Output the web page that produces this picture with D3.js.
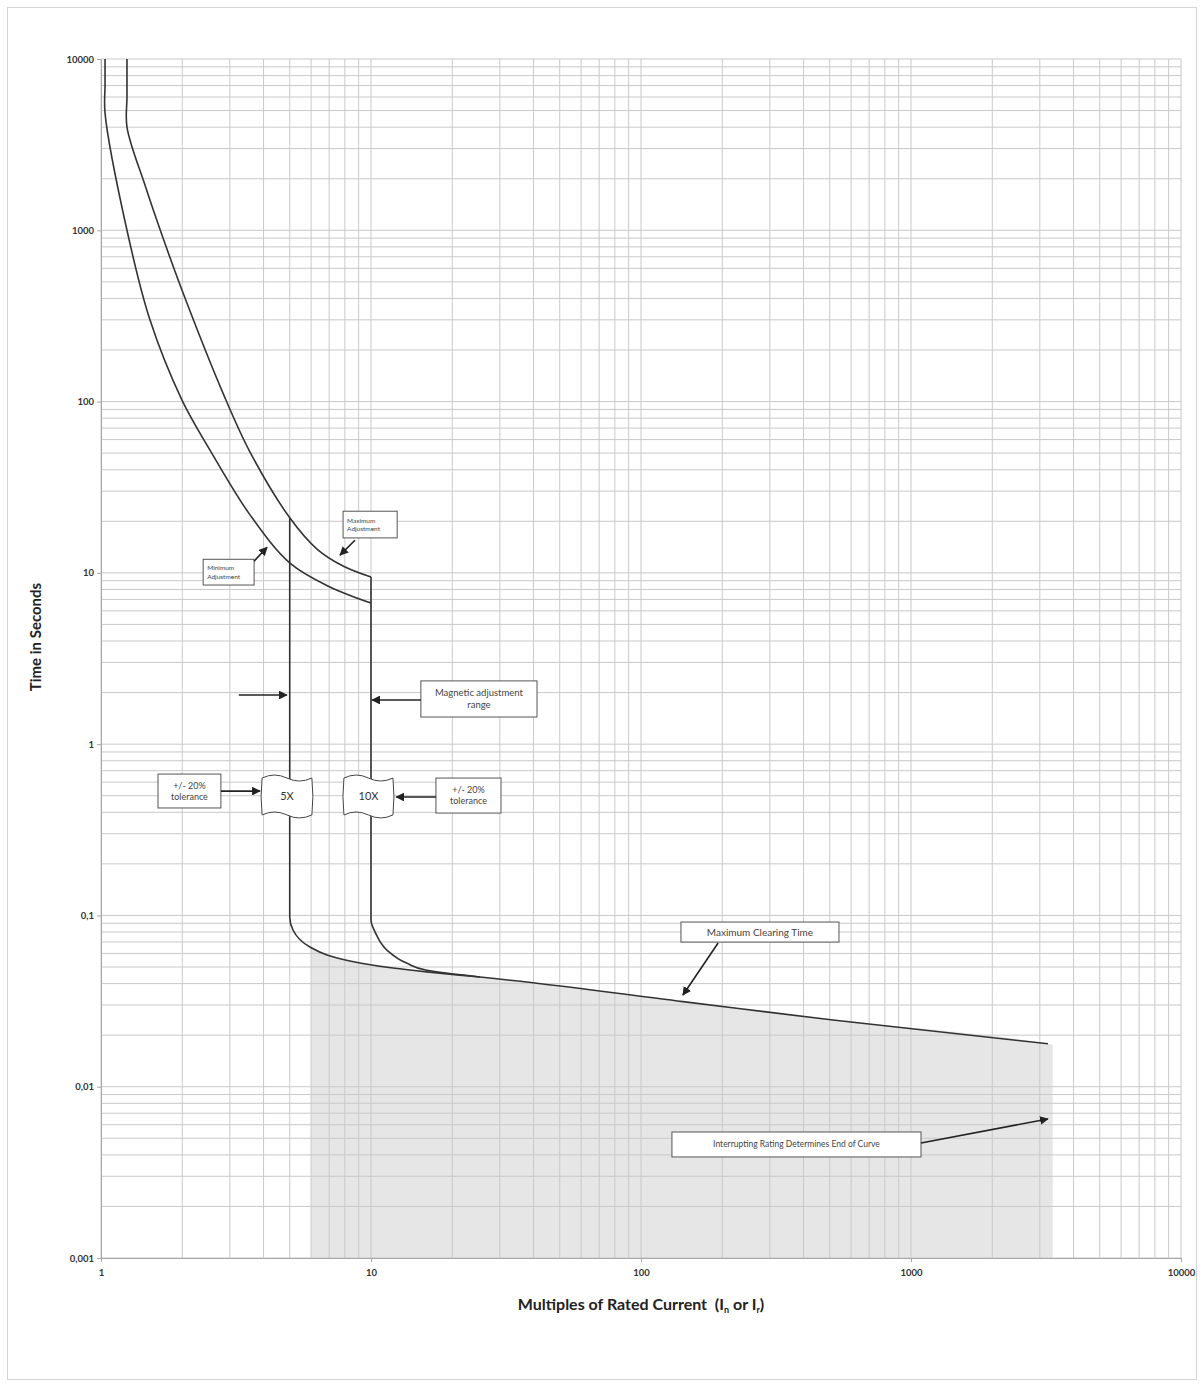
<!DOCTYPE html>
<html>
<head>
<meta charset="utf-8">
<script src="https://cdn.jsdelivr.net/npm/d3@7"></script>
<style>
body { margin: 0; background: #fff; }
svg { font-family: Lato, "Open Sans", sans-serif; }
</style>
</head>
<body>
<svg id="chart" width="1203" height="1386"></svg>
<script>
// valores: x = múltiplos da corrente nominal, y = segundos
const xTicks = [1, 10, 100, 1000, 10000];
const xTickLabels = ["1", "10", "100", "1000", "10000"];
const yTicks = [0.001, 0.01, 0.1, 1, 10, 100, 1000, 10000];
const yTickLabels = ["0,001", "0,01", "0,1", "1", "10", "100", "1000", "10000"];

const minAdjust = [[1.035, 10000], [1.035, 7000], [1.035, 4834], [1.248, 1000], [1.519, 299], [1.995, 102], [2.533, 52.1], [3.564, 21.8], [5.01, 11.4], [7.05, 8.27], [10, 6.66]];
const maxAdjust = [[1.248, 10000], [1.248, 6000], [1.248, 4006], [1.455, 1837], [1.682, 938], [2.047, 402], [2.83, 112], [3.564, 50.7], [5.01, 20.9], [6.31, 13.77], [7.88, 10.96], [10, 9.45]];
const mag5 = [[5, 20.9], [5, 0.098], [5.14, 0.0822], [5.94, 0.0654], [6.87, 0.0588], [9.1, 0.0528], [12.06, 0.0493], [16.1, 0.0468], [25.3, 0.0437], [143, 0.0314], [514, 0.0245], [3215, 0.0178]];
const mag10 = [[10, 9.45], [10, 0.094], [10.4, 0.0789], [11.45, 0.0628], [13.6, 0.0525], [16.1, 0.0478], [25.3, 0.0437]];
const shadeTop = [[6.0, 0.064], [6.87, 0.0588], [9.1, 0.0528], [12.06, 0.0493], [16.1, 0.0468], [25.3, 0.0437], [143, 0.0314], [514, 0.0245], [3215, 0.0178], [3350, 0.0176]];

// caixas de texto (cantos em unidades do gráfico)
const boxes = [
   { text: ["Maximum", "Adjustment"], x0: 7.88, x1: 12.5, t0: 22.9, t1: 16.0, size: 6.5, left: true },
   { text: ["Minimum", "Adjustment"], x0: 2.39, x1: 3.69, t0: 12.0, t1: 8.49, size: 6.5, left: true },
   { text: ["Magnetic adjustment", "range"], x0: 15.3, x1: 41.2, t0: 2.34, t1: 1.44, size: 9.5 },
   { text: ["+/- 20%", "tolerance"], x0: 1.626, x1: 2.78, t0: 0.669, t1: 0.424, size: 9 },
   { text: ["+/- 20%", "tolerance"], x0: 17.4, x1: 30.3, t0: 0.634, t1: 0.396, size: 9 },
   { text: ["Maximum Clearing Time"], x0: 140.6, x1: 541, t0: 0.0915, t1: 0.0699, size: 10 },
   { text: ["Interrupting Rating Determines End of Curve"], x0: 130.2, x1: 1089, t0: 0.00544, t1: 0.00389, size: 8.5 }
];
const tapes = [
   { text: "5X", x0: 3.95, x1: 6.04, t0: 0.634, t1: 0.386 },
   { text: "10X", x0: 7.94, x1: 12.06, t0: 0.634, t1: 0.386 }
];
const arrows = [
   [[8.72, 15.5], [7.68, 12.7]],
   [[3.69, 11.7], [4.12, 14.1]],
   [[3.24, 1.935], [4.88, 1.935]],
   [[15.3, 1.81], [10.09, 1.81]],
   [[2.78, 0.532], [3.88, 0.532]],
   [[17.4, 0.491], [12.4, 0.491]],
   [[193, 0.069], [143, 0.0343]],
   [[1089, 0.00469], [3215, 0.00648]]
];

const margin = { left: 101, top: 59 };
const width = 1080, height = 1199;
const svg = d3.select("#chart");

svg.append("rect")
   .attr("x", 7.5).attr("y", 7.5)
   .attr("width", 1189).attr("height", 1372)
   .attr("fill", "none").attr("stroke", "#d4d4d4");

const g = svg.append("g").attr("transform", `translate(${margin.left},${margin.top})`);
const x = d3.scaleLog().domain([1, 10000]).range([0, width]);
const y = d3.scaleLog().domain([0.001, 10000]).range([height, 0]);

// área sombreada
g.append("path")
   .datum(shadeTop)
   .attr("fill", "#e6e6e6")
   .attr("d", d3.area().x(d => x(d[0])).y0(y(0.001)).y1(d => y(d[1])).curve(d3.curveMonotoneX));

// grade log
const xGrid = [], yGrid = [];
for (let e = 0; e < 4; e++) for (let k = 1; k < 10; k++) xGrid.push(k * 10 ** e);
xGrid.push(10000);
for (let e = -3; e < 4; e++) for (let k = 1; k < 10; k++) yGrid.push(k * 10 ** e);
yGrid.push(10000);

g.selectAll(".vg").data(xGrid).join("line")
   .attr("x1", d => x(d)).attr("x2", d => x(d))
   .attr("y1", 0).attr("y2", height)
   .attr("stroke", "#c9c9c9");
g.selectAll(".hg").data(yGrid).join("line")
   .attr("y1", d => y(d)).attr("y2", d => y(d))
   .attr("x1", 0).attr("x2", width)
   .attr("stroke", "#c9c9c9");

// eixos
const xAxis = g.append("g").attr("transform", `translate(0,${height})`)
   .call(d3.axisBottom(x).tickValues(xTicks).tickFormat((d, i) => xTickLabels[i]).tickSize(4).tickSizeOuter(0));
const yAxis = g.append("g")
   .call(d3.axisLeft(y).tickValues(yTicks).tickFormat((d, i) => yTickLabels[i]).tickSize(4).tickSizeOuter(0));
[xAxis, yAxis].forEach(a => {
   a.selectAll("path, line").attr("stroke", "#a8a8a8");
   a.selectAll("text")
      .attr("font-family", "Lato, sans-serif")
      .attr("font-size", 9.5)
      .attr("font-weight", "bold")
      .attr("fill", "#333");
});
xAxis.selectAll("text").attr("dy", "1.2em");

// títulos
svg.append("text")
   .attr("transform", "translate(41,637) rotate(-90)")
   .attr("text-anchor", "middle")
   .attr("font-size", 15).attr("font-weight", "bold").attr("fill", "#222")
   .text("Time in Seconds");

const xt = svg.append("text")
   .attr("x", 641).attr("y", 1310)
   .attr("text-anchor", "middle")
   .attr("font-size", 16).attr("font-weight", "bold").attr("fill", "#222");
xt.append("tspan").text("Multiples of Rated Current\u00a0\u00a0(I");
xt.append("tspan").attr("font-size", 9).attr("dy", 3).text("n");
xt.append("tspan").attr("dy", -3).text(" or I");
xt.append("tspan").attr("font-size", 9).attr("dy", 3).text("r");
xt.append("tspan").attr("dy", -3).text(")");

// curvas
const smooth = d3.line().x(d => x(d[0])).y(d => y(d[1])).curve(d3.curveCatmullRom.alpha(0.5));
const line = d3.line().x(d => x(d[0])).y(d => y(d[1])).curve(d3.curveMonotoneY);
[[minAdjust, smooth], [maxAdjust, smooth], [mag5, line], [mag10, line]].forEach(([s, gen]) =>
   g.append("path")
      .datum(s)
      .attr("fill", "none")
      .attr("stroke", "#333")
      .attr("stroke-width", 1.6)
      .attr("d", gen)
);

// caixas onduladas 5X / 10X
tapes.forEach(b => {
   const x0 = x(b.x0), x1 = x(b.x1), y0 = y(b.t0), y1 = y(b.t1), w = x1 - x0, a = 3;
   const p = d3.path();
   p.moveTo(x0, y0);
   p.quadraticCurveTo(x0 + w / 4, y0 - 2 * a, x0 + w / 2, y0);
   p.quadraticCurveTo(x0 + 3 * w / 4, y0 + 2 * a, x1, y0);
   p.quadraticCurveTo(x1 + 2, (y0 + y1) / 2, x1, y1);
   p.quadraticCurveTo(x1 - w / 4, y1 + 2 * a, x1 - w / 2, y1);
   p.quadraticCurveTo(x0 + w / 4, y1 - 2 * a, x0, y1);
   p.quadraticCurveTo(x0 - 2, (y0 + y1) / 2, x0, y0);
   p.closePath();
   g.append("path").attr("d", p.toString())
      .attr("fill", "#fff").attr("stroke", "#444").attr("stroke-width", 1);
   g.append("text")
      .attr("x", (x0 + x1) / 2).attr("y", (y0 + y1) / 2)
      .attr("dy", "0.35em").attr("text-anchor", "middle")
      .attr("font-size", 11).attr("fill", "#333")
      .text(b.text);
});

// caixas de texto
boxes.forEach(b => {
   const x0 = x(b.x0), x1 = x(b.x1), y0 = y(b.t0), y1 = y(b.t1);
   g.append("rect")
      .attr("x", x0).attr("y", y0)
      .attr("width", x1 - x0).attr("height", y1 - y0)
      .attr("fill", "#fff").attr("stroke", "#555").attr("stroke-width", 1);
   const lh = b.size * 1.25;
   const top = (y0 + y1) / 2 - (b.text.length - 1) * lh / 2;
   b.text.forEach((t, i) =>
      g.append("text")
         .attr("x", b.left ? x0 + 4 : (x0 + x1) / 2)
         .attr("y", top + i * lh)
         .attr("dy", "0.35em")
         .attr("text-anchor", b.left ? "start" : "middle")
         .attr("font-size", b.size).attr("fill", "#444")
         .text(t)
   );
});

// setas
svg.append("defs").append("marker")
   .attr("id", "head")
   .attr("viewBox", "0 0 10 10")
   .attr("refX", 9).attr("refY", 5)
   .attr("markerWidth", 5.5).attr("markerHeight", 5.5)
   .attr("orient", "auto")
   .append("path").attr("d", "M0,0 L10,5 L0,10 Z").attr("fill", "#222");

arrows.forEach(a =>
   g.append("line")
      .attr("x1", x(a[0][0])).attr("y1", y(a[0][1]))
      .attr("x2", x(a[1][0])).attr("y2", y(a[1][1]))
      .attr("stroke", "#222").attr("stroke-width", 1.6)
      .attr("marker-end", "url(#head)")
);
</script>
</body>
</html>
